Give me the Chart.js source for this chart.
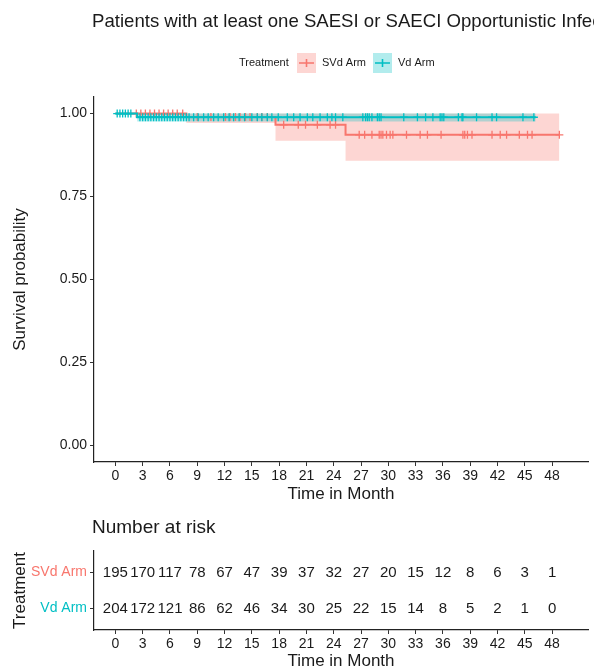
<!DOCTYPE html>
<html>
<head>
<meta charset="utf-8">
<title>Patients with at least one SAESI or SAECI Opportunistic Infection</title>
<script src="https://cdn.jsdelivr.net/npm/chart.js"></script>
<style>
  body { margin: 0; background: #fff; }
  #wrap { position: relative; width: 594px; height: 672px; overflow: hidden; }
  #km { position: absolute; left: 0; top: 0; }
  #risk { position: absolute; left: 0; top: 505px; }
</style>
</head>
<body>
<div id="wrap">
  <canvas id="km" width="594" height="505"></canvas>
  <canvas id="risk" width="594" height="167"></canvas>
</div>
<script>
// ---- data ----
const monthTicks = [0, 3, 6, 9, 12, 15, 18, 21, 24, 27, 30, 33, 36, 39, 42, 45, 48];
const survTicks = [0, 0.25, 0.5, 0.75, 1];

// SVd arm: KM steps, confidence band, censor times
const svdTimes = [0, 7.8, 17.6, 25.3, 48.8];
const svdSurv = [1, 0.99, 0.966, 0.936, 0.936];
const svdLower = [1, 0.972, 0.918, 0.858, 0.858];
const svdUpper = [1, 1, 1, 1, 1];
const svdCensor = [2.3, 2.8, 3.3, 3.8, 4.3, 4.8, 5.3, 5.8, 6.3, 6.8, 7.4,
  9.0, 10.5, 12.1, 12.6, 13.2, 13.7, 14.3, 14.8, 15.6, 16.1, 16.7,
  18.5, 20.1, 20.9, 22.2, 23.6, 24.2,
  26.8, 27.4, 28.2, 29.0, 29.2, 29.4, 29.8, 30.2, 30.5, 32.0, 33.5, 34.3, 35.8,
  38.2, 38.4, 38.7, 39.2, 41.4, 42.3, 43.0, 44.4, 45.3, 45.8, 48.8];

// Vd arm
const vdTimes = [0, 2.4, 46.2];
const vdSurv = [1, 0.989, 0.989];
const vdLower = [1, 0.976, 0.976];
const vdUpper = [1, 1, 1];
const vdCensor = [0.2, 0.5, 0.8, 1.1, 1.4, 1.7,
  2.7, 3.0, 3.3, 3.6, 3.9, 4.2, 4.5, 4.8, 5.1, 5.4, 5.7, 6.0, 6.3, 6.6, 6.9, 7.2, 7.5, 7.8,
  8.1, 8.6, 9.1, 9.7, 10.2, 10.8, 11.3, 11.9, 12.5, 13.0, 13.6, 14.2, 15.0, 15.6, 16.1,
  16.7, 17.2, 17.9, 18.9, 19.6, 20.3, 21.1, 21.7, 22.5, 23.3, 23.8, 24.2, 25.0,
  27.2, 27.5, 27.7, 27.9, 28.2, 28.8, 29.0, 29.2, 31.7, 33.2, 34.1, 34.9, 35.7, 35.9,
  36.1, 37.7, 38.1, 38.2, 39.7, 41.4, 41.9, 44.8, 46.0];

// number at risk
const riskRows = ['SVd Arm', 'Vd Arm'];
const svdRisk = [195, 170, 117, 78, 67, 47, 39, 37, 32, 27, 20, 15, 12, 8, 6, 3, 1];
const vdRisk = [204, 172, 121, 86, 62, 46, 34, 30, 25, 22, 15, 14, 8, 5, 2, 1, 0];

// ---- styling ----
const RED = '#F8766D';
const CYAN = '#00BFC4';
const RED_FILL = 'rgba(248,118,109,0.3)';
const CYAN_FILL = 'rgba(0,191,196,0.3)';
const FONT = '"Liberation Sans", Arial, sans-serif';
const TXT = '#1a1a1a';
const X_MIN = -2.35, X_MAX = 51.95;

Chart.defaults.font.family = FONT;
Chart.defaults.color = TXT;

const pts = (xs, ys) => xs.map((x, i) => ({ x: x, y: ys[i] }));
// survival value in effect at time t (step lookup)
function survAt(times, surv, t) {
  let s = surv[0];
  for (let i = 0; i < times.length; i++) if (times[i] <= t) s = surv[i];
  return s;
}
const censorPts = (cs, times, surv) => cs.map(t => ({ x: t, y: survAt(times, surv, t) }));

function xAxis(height, titlePad) {
  return {
    type: 'linear', min: X_MIN, max: X_MAX,
    afterBuildTicks: s => { s.ticks = monthTicks.map(v => ({ value: v })); },
    afterFit: s => { s.height = height; },
    ticks: { font: { size: 14 }, color: TXT, padding: 2, maxRotation: 0, autoSkip: false },
    grid: { display: true, drawOnChartArea: false, drawTicks: true, tickLength: 4, color: '#333' },
    border: { display: true, color: '#222', width: 1.2 },
    title: { display: true, text: 'Time in Month', font: { size: 17 }, color: TXT, padding: titlePad }
  };
}

const bandDs = (label, xs, lo, hi, fillCol) => [
  { label: label + ' lo', data: pts(xs, lo), stepped: true, borderWidth: 0, pointRadius: 0, fill: '+1', backgroundColor: fillCol },
  { label: label + ' hi', data: pts(xs, hi), stepped: true, borderWidth: 0, pointRadius: 0, fill: false }
];

const kmHeader = {
  id: 'kmHeader',
  afterDraw(chart) {
    const ctx = chart.ctx;
    ctx.save();
    ctx.fillStyle = TXT;
    ctx.textBaseline = 'middle';
    ctx.font = '18.6px ' + FONT;
    ctx.fillText('Patients with at least one SAESI or SAECI Opportunistic Infection', 92, 22);
    ctx.font = '11px ' + FONT;
    ctx.fillText('Treatment', 239, 63);
    const keys = [[297, RED, RED_FILL, 'SVd Arm'], [373, CYAN, CYAN_FILL, 'Vd Arm']];
    keys.forEach(([kx, col, fillCol, txt]) => {
      ctx.fillStyle = fillCol;
      ctx.fillRect(kx, 53, 19, 20);
      ctx.strokeStyle = col;
      ctx.lineWidth = 1.6;
      ctx.beginPath();
      ctx.moveTo(kx + 2, 63); ctx.lineTo(kx + 17, 63);
      ctx.moveTo(kx + 9.5, 59); ctx.lineTo(kx + 9.5, 67);
      ctx.stroke();
      ctx.fillStyle = TXT;
      ctx.fillText(txt, kx + 25, 63);
    });
    ctx.restore();
  }
};

new Chart(document.getElementById('km'), {
  type: 'line',
  data: {
    datasets: [
      { label: 'Vd censor', type: 'scatter', data: censorPts(vdCensor, vdTimes, vdSurv), pointStyle: 'cross', pointRadius: 4, borderColor: CYAN, borderWidth: 1.3, showLine: false },
      { label: 'Vd Arm', data: pts(vdTimes, vdSurv), stepped: true, borderColor: CYAN, borderWidth: 2, pointRadius: 0, fill: false },
      { label: 'SVd censor', type: 'scatter', data: censorPts(svdCensor, svdTimes, svdSurv), pointStyle: 'cross', pointRadius: 4, borderColor: RED, borderWidth: 1.3, showLine: false },
      { label: 'SVd Arm', data: pts(svdTimes, svdSurv), stepped: true, borderColor: RED, borderWidth: 2, pointRadius: 0, fill: false },
      ...bandDs('Vd', vdTimes, vdLower, vdUpper, CYAN_FILL),
      ...bandDs('SVd', svdTimes, svdLower, svdUpper, RED_FILL)
    ]
  },
  options: {
    responsive: false, animation: false,
    layout: { padding: { top: 97, right: 6, left: 0, bottom: 0 } },
    plugins: { legend: { display: false }, tooltip: { enabled: false } },
    scales: {
      x: xAxis(43, { top: 0, bottom: 0 }),
      y: {
        type: 'linear', min: -0.05, max: 1.05,
        afterBuildTicks: s => { s.ticks = survTicks.map(v => ({ value: v })); },
        afterFit: s => { s.width = 94; },
        ticks: { font: { size: 14 }, color: TXT, padding: 3, callback: v => Number(v).toFixed(2) },
        grid: { display: true, drawOnChartArea: false, drawTicks: true, tickLength: 4, color: '#333' },
        border: { display: true, color: '#222', width: 1.2 },
        title: { display: true, text: 'Survival probability', font: { size: 17 }, color: TXT, padding: { top: 10, bottom: 0 } }
      }
    }
  },
  plugins: [kmHeader]
});

// ---- risk table ----
const riskText = {
  id: 'riskText',
  afterDraw(chart) {
    const ctx = chart.ctx, xs = chart.scales.x, ys = chart.scales.y;
    ctx.save();
    ctx.fillStyle = TXT;
    ctx.textBaseline = 'middle';
    ctx.font = '19px ' + FONT;
    ctx.textAlign = 'left';
    ctx.fillText('Number at risk', 92, 23);
    ctx.font = '15px ' + FONT;
    ctx.textAlign = 'center';
    [svdRisk, vdRisk].forEach((row, r) => {
      row.forEach((n, i) => {
        ctx.fillText(String(n), xs.getPixelForValue(monthTicks[i]), ys.getPixelForValue(r + 1));
      });
    });
    ctx.restore();
  }
};

new Chart(document.getElementById('risk'), {
  type: 'scatter',
  data: { datasets: [{ data: [], pointRadius: 0 }] },
  options: {
    responsive: false, animation: false,
    layout: { padding: { top: 46, right: 6, left: 0, bottom: 0 } },
    plugins: { legend: { display: false }, tooltip: { enabled: false } },
    scales: {
      x: xAxis(42, { top: 0, bottom: 0 }),
      y: {
        type: 'linear', min: 0.4, max: 2.6, reverse: true,
        afterBuildTicks: s => { s.ticks = [1, 2].map(v => ({ value: v })); },
        afterFit: s => { s.width = 94; },
        ticks: { font: { size: 14 }, padding: 3, color: c => [RED, CYAN][c.index], callback: v => riskRows[Math.round(v) - 1] },
        grid: { display: true, drawOnChartArea: false, drawTicks: true, tickLength: 4, color: '#333' },
        border: { display: true, color: '#222', width: 1.2 },
        title: { display: true, text: 'Treatment', font: { size: 17 }, color: TXT, padding: { top: 10, bottom: 0 } }
      }
    }
  },
  plugins: [riskText]
});
</script>
</body>
</html>
